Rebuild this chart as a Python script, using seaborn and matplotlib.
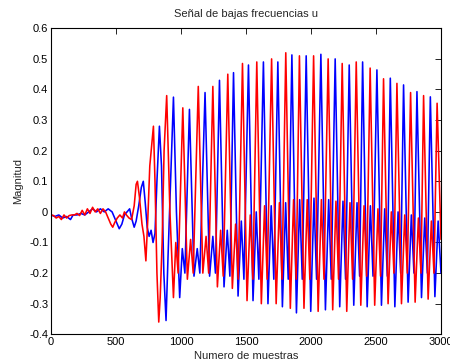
import numpy as np
import pandas as pd
import matplotlib
matplotlib.use("Agg")
import matplotlib.pyplot as plt
import seaborn as sns

# ---------------- data ----------------
title = "Señal de bajas frecuencias u"
xlabel = "Numero de muestras"
ylabel = "Magnitud"
xticks = [0, 500, 1000, 1500, 2000, 2500, 3000]
yticks = [-0.4, -0.3, -0.2, -0.1, 0, 0.1, 0.2, 0.3, 0.4, 0.5, 0.6]
ytick_labels = ["-0.4", "-0.3", "-0.2", "-0.1", "0", "0.1", "0.2", "0.3", "0.4", "0.5", "0.6"]

# early, irregular part (vertices)
red_early_x = [0, 20, 40, 60, 80, 100, 120, 140, 160, 180, 200, 220, 240, 260, 280, 300, 320, 340,
               360, 380, 400, 420, 440, 460, 475, 490, 510, 530, 550, 565, 580, 600, 620, 640, 655,
               665, 680, 700, 715, 730, 745, 760, 775, 788, 800, 815, 829, 840, 855, 870, 890, 915,
               942, 960, 978]
red_early_y = [-0.01, -0.012, -0.02, -0.015, -0.025, -0.01, -0.02, -0.012, -0.01, -0.01, -0.005,
               -0.012, 0.005, -0.01, 0.01, -0.005, 0.015, 0.0, 0.01, -0.005, 0.01, 0.0, -0.02, -0.04,
               -0.05, -0.035, -0.02, -0.01, -0.02, 0.0, -0.01, -0.02, -0.025, 0.02, 0.09, 0.10, 0.05,
               -0.04, -0.08, -0.16, -0.02, 0.15, 0.22, 0.28, 0.10, -0.20, -0.36, -0.28, -0.10, 0.20,
               0.38, 0.0, -0.28, -0.10, -0.20]
blue_early_x = [0, 30, 60, 90, 120, 150, 170, 200, 230, 260, 290, 320, 350, 380, 410, 440, 470, 490,
                510, 525, 545, 565, 585, 605, 620, 640, 655, 675, 695, 710, 725, 740, 755, 770, 785,
                800, 815, 834, 850, 868, 885, 900, 920, 942, 965, 990, 1010, 1030]
blue_early_y = [-0.01, -0.015, -0.01, -0.02, -0.015, -0.025, -0.01, -0.01, -0.005, -0.01, 0.0, 0.01,
                0.0, 0.01, 0.0, 0.01, 0.0, -0.02, -0.04, -0.055, -0.04, -0.01, 0.0, 0.01, -0.02,
                -0.05, -0.03, 0.02, 0.08, 0.10, 0.03, -0.05, -0.08, -0.06, -0.10, -0.07, 0.10, 0.28,
                0.15, -0.20, -0.355, -0.15, 0.10, 0.375, 0.0, -0.28, -0.12, -0.20]

# regular oscillation: big peaks, deep troughs, small bumps, shallow dips
red_peak_x = [1014, 1133, 1245, 1360, 1473, 1583, 1697, 1806, 1911, 2020, 2132, 2240, 2348, 2455,
              2558, 2661, 2766, 2866, 2970]
red_peak_y = [0.34, 0.41, 0.41, 0.45, 0.485, 0.49, 0.50, 0.52, 0.51, 0.51, 0.50, 0.485, 0.49, 0.47,
              0.435, 0.42, 0.39, 0.38, 0.355]
red_trough_x = [1049, 1168, 1280, 1395, 1508, 1618, 1732, 1841, 1946, 2055, 2167, 2275, 2383, 2490,
                2593, 2696, 2801, 2901]
red_trough_y = [-0.22, -0.20, -0.245, -0.25, -0.29, -0.30, -0.30, -0.315, -0.315, -0.325, -0.32,
                -0.325, -0.305, -0.305, -0.30, -0.30, -0.295, -0.285]
red_bump_x = [1074, 1193, 1305, 1420, 1533, 1643, 1757, 1866, 1971, 2080, 2192, 2300, 2408, 2515,
              2618, 2721, 2826, 2926]
red_bump_y = [-0.09, -0.08, -0.06, -0.04, -0.01, 0.02, 0.03, 0.04, 0.04, 0.04, 0.035, 0.03, 0.02,
              0.01, 0.0, -0.01, -0.02, -0.03]
red_dip_x = [1094, 1213, 1325, 1440, 1553, 1663, 1777, 1886, 1991, 2100, 2212, 2320, 2428, 2535,
             2638, 2741, 2846, 2946]
red_dip_y = [-0.20, -0.20, -0.21, -0.22, -0.22, -0.22, -0.22, -0.22, -0.22, -0.22, -0.22, -0.22,
             -0.21, -0.21, -0.20, -0.20, -0.20, -0.20]
red_end = (3000, -0.09)

blue_peak_x = [1065, 1185, 1296, 1404, 1519, 1634, 1745, 1853, 1963, 2076, 2186, 2294, 2397, 2507,
               2610, 2712, 2815, 2918]
blue_peak_y = [0.335, 0.39, 0.43, 0.455, 0.48, 0.49, 0.49, 0.513, 0.51, 0.515, 0.50, 0.48, 0.49,
               0.464, 0.437, 0.415, 0.393, 0.376]
blue_trough_x = [1100, 1220, 1331, 1439, 1554, 1669, 1780, 1888, 1998, 2111, 2221, 2329, 2432, 2542,
                 2645, 2747, 2850, 2953]
blue_trough_y = [-0.21, -0.21, -0.245, -0.275, -0.29, -0.30, -0.31, -0.33, -0.325, -0.32, -0.31,
                 -0.305, -0.31, -0.305, -0.31, -0.295, -0.28, -0.277]
blue_bump_x = [1125, 1245, 1356, 1464, 1579, 1694, 1805, 1913, 2023, 2136, 2246, 2354, 2457, 2567,
               2670, 2772, 2875, 2978]
blue_bump_y = [-0.12, -0.08, -0.06, -0.03, 0.0, 0.02, 0.03, 0.04, 0.045, 0.04, 0.035, 0.03, 0.02,
               0.01, 0.0, -0.01, -0.02, -0.03]
blue_dip_x = [1145, 1265, 1376, 1484, 1599, 1714, 1825, 1933, 2043, 2156, 2266, 2374, 2477, 2587,
              2690, 2792, 2895]
blue_dip_y = [-0.20, -0.20, -0.21, -0.22, -0.22, -0.22, -0.22, -0.22, -0.22, -0.22, -0.22, -0.21,
              -0.21, -0.21, -0.20, -0.20, -0.20]
blue_end = (3000, -0.20)


def build(early_x, early_y, groups, end):
    xs = list(early_x)
    ys = list(early_y)
    for gx, gy in groups:
        xs += list(gx)
        ys += list(gy)
    xs.append(end[0])
    ys.append(end[1])
    df = pd.DataFrame({"n": xs, "u": ys}).sort_values("n")
    return df


red_df = build(red_early_x, red_early_y,
               [(red_peak_x, red_peak_y), (red_trough_x, red_trough_y),
                (red_bump_x, red_bump_y), (red_dip_x, red_dip_y)], red_end)
blue_df = build(blue_early_x, blue_early_y,
                [(blue_peak_x, blue_peak_y), (blue_trough_x, blue_trough_y),
                 (blue_bump_x, blue_bump_y), (blue_dip_x, blue_dip_y)], blue_end)

# ---------------- plotting ----------------
sns.set_style("white")
plt.rcParams["font.family"] = ["Liberation Sans", "DejaVu Sans"]

fig = plt.figure(figsize=(4.5, 3.64), dpi=100)
ax = fig.add_axes([0.1133, 0.0816, 0.8667, 0.8407])

sns.lineplot(data=blue_df, x="n", y="u", sort=False, estimator=None, color=(0, 0, 1),
             lw=1.15, ax=ax, solid_joinstyle="round")
sns.lineplot(data=red_df, x="n", y="u", sort=False, estimator=None, color=(1, 0, 0),
             lw=1.15, ax=ax, solid_joinstyle="round")

ax.set_xlim(0, 3000)
ax.set_ylim(-0.4, 0.6)
ax.set_xticks(xticks)
ax.set_xticklabels([str(t) for t in xticks])
ax.set_yticks(yticks)
ax.set_yticklabels(ytick_labels)
ax.tick_params(direction="in", length=4, width=0.6, labelsize=8, colors="black",
               top=True, right=True, pad=2)
for s in ax.spines.values():
    s.set_color("black")
    s.set_linewidth(0.8)

ax.set_title(title, fontsize=8, pad=8)
ax.set_xlabel(xlabel, fontsize=8, labelpad=3)
ax.set_ylabel(ylabel, fontsize=8, labelpad=4)

fig.savefig("out.png", dpi=100)
